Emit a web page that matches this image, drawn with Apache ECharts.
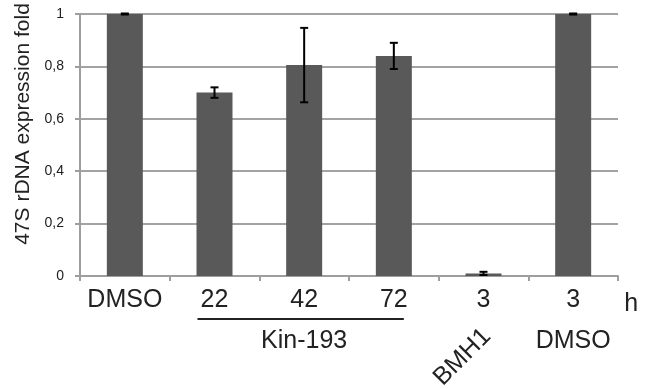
<!DOCTYPE html>
<html><head><meta charset="utf-8">
<script src="https://cdn.jsdelivr.net/npm/echarts@6/dist/echarts.min.js"></script>
<style>html,body{margin:0;padding:0;background:#fff}#c{width:651px;height:389px}</style>
</head><body><div id="c"></div>
<script>
var categories = ['DMSO', '22', '42', '72', '3', '3'];
var values = [1, 0.70, 0.805, 0.84, 0.01, 1];
var errors = [0.002, 0.02, 0.142, 0.05, 0.006, 0.002];
var yTicks = [0, 0.2, 0.4, 0.6, 0.8, 1];
var yAxisTitle = '47S rDNA expression fold';
var groupLabel = 'Kin-193';
var extraLabels = ['BMH1', 'DMSO'];
var unitLabel = 'h';

var FONT = 'Liberation Sans, Arial, sans-serif';
var chart = echarts.init(document.getElementById('c'), null, {renderer: 'canvas'});
var errData = values.map(function (v, i) { return [i, v - errors[i], v + errors[i]]; });

chart.setOption({
  animation: false,
  grid: {left: 80, right: 33, top: 14, bottom: 113},
  xAxis: {
    type: 'category', data: categories,
    axisLine: {lineStyle: {color: '#9e9e9e', width: 2}},
    axisTick: {show: true, length: 5, lineStyle: {color: '#9e9e9e', width: 2}},
    axisLabel: {color: '#222', fontFamily: FONT, fontSize: 25, margin: 12, interval: 0, hideOverlap: false}
  },
  yAxis: {
    type: 'value', min: yTicks[0], max: yTicks[yTicks.length - 1], interval: 0.2,
    axisLine: {show: true, lineStyle: {color: '#9e9e9e', width: 2}},
    axisTick: {show: true, length: 5, lineStyle: {color: '#9e9e9e', width: 2}},
    splitLine: {lineStyle: {color: '#a3a3a3', width: 2}},
    axisLabel: {color: '#222', fontFamily: FONT, fontSize: 14, margin: 16,
      formatter: function (v) { return String(Math.round(v * 10) / 10).replace('.', ','); }}
  },
  series: [{
    type: 'bar', data: values, barWidth: 36,
    itemStyle: {color: '#595959'}
  }, {
    type: 'custom', data: errData, z: 10,
    renderItem: function (params, api) {
      var x = api.value(0);
      var lo = api.coord([x, api.value(1)]);
      var hi = api.coord([x, api.value(2)]);
      var w = 4;
      var st = {stroke: '#000', lineWidth: 2};
      return {type: 'group', children: [
        {type: 'line', shape: {x1: lo[0], y1: lo[1], x2: hi[0], y2: hi[1]}, style: st},
        {type: 'line', shape: {x1: lo[0] - w, y1: lo[1], x2: lo[0] + w, y2: lo[1]}, style: st},
        {type: 'line', shape: {x1: hi[0] - w, y1: hi[1], x2: hi[0] + w, y2: hi[1]}, style: st}
      ]};
    }
  }]
});

function px(i) { return chart.convertToPixel({xAxisIndex: 0}, i); }
var y0 = chart.convertToPixel({yAxisIndex: 0}, 0);
var tStyle = {fill: '#222', font: '25px ' + FONT, textAlign: 'center', textVerticalAlign: 'middle'};
chart.setOption({graphic: [
  {type: 'text', x: 23, y: 124, rotation: Math.PI / 2, style: {text: yAxisTitle, fill: '#222', font: '21px ' + FONT, textAlign: 'center', textVerticalAlign: 'middle'}},
  {type: 'line', shape: {x1: px(1) - 17, y1: y0 + 43, x2: px(3) + 10, y2: y0 + 43}, style: {stroke: '#222', lineWidth: 2}},
  {type: 'text', x: (px(1) + px(3)) / 2, y: y0 + 65, style: Object.assign({text: groupLabel}, tStyle)},
  {type: 'text', x: px(4) - 21, y: y0 + 81, rotation: Math.PI / 4, style: Object.assign({text: extraLabels[0]}, tStyle)},
  {type: 'text', x: px(5), y: y0 + 65, style: Object.assign({text: extraLabels[1]}, tStyle)},
  {type: 'text', x: px(5) + 58, y: y0 + 28, style: Object.assign({text: unitLabel}, tStyle)}
]});
</script>
</body></html>
